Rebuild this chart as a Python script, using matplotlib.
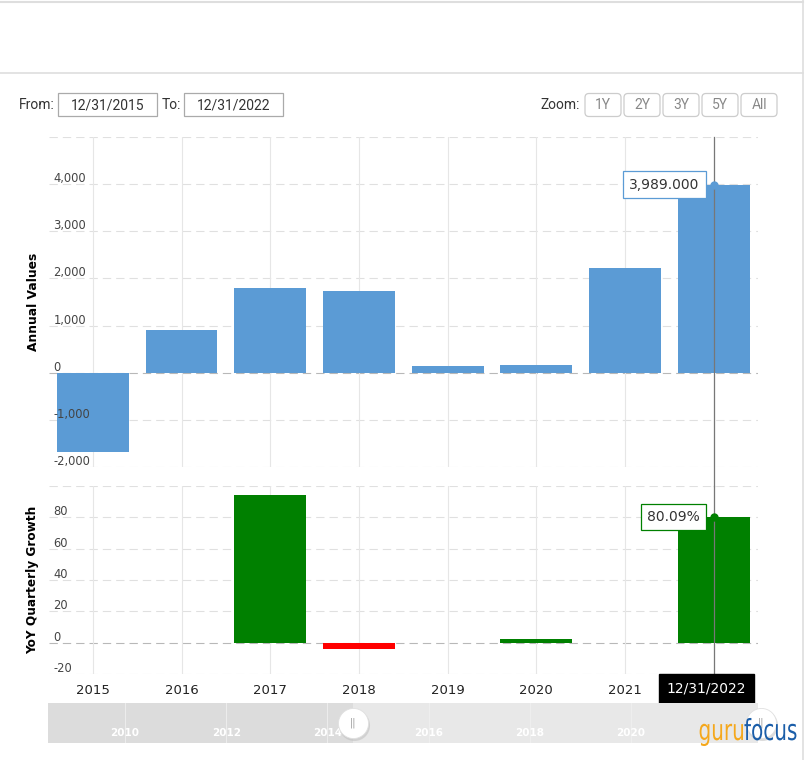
import matplotlib
matplotlib.use('Agg')
import matplotlib.pyplot as plt
from matplotlib.patches import Rectangle, FancyBboxPatch, PathPatch
from matplotlib.lines import Line2D
from matplotlib.textpath import TextPath
from matplotlib.font_manager import FontProperties
from matplotlib.transforms import Affine2D
import numpy as np

# ----------------------
# data
# ----------------------
years = ['2015', '2016', '2017', '2018', '2019', '2020', '2021', '2022']
annual_values = [-1680, 915, 1787, 1723, 149, 170, 2213, 3989]
yoy_growth = [np.nan, np.nan, 94.2, -3.8, np.nan, 2.6, np.nan, 80.09]

annual_ticks = [-2000, -1000, 0, 1000, 2000, 3000, 4000]
annual_lim = (-2000, 5000)
growth_ticks = [-20, 0, 20, 40, 60, 80]
growth_lim = (-20, 100)

nav_years = [2010, 2012, 2014, 2016, 2018, 2020]
nav_lim = (2008.48, 2022.51)
nav_start = 2014.51

date_from = '12/31/2015'
date_to = '12/31/2022'
zoom_buttons = ['1Y', '2Y', '3Y', '5Y', 'All']

# ----------------------
# style
# ----------------------
W, H = 806, 760
BLUE = '#5b9bd5'
GREEN = '#008000'
RED = '#ff0000'
GRID = '#e0e0e0'
VGRID = '#e6e6e6'
plt.rcParams['font.family'] = ['DejaVu Sans']


def rect(l, t, r, b):
    return [l / W, 1 - b / H, (r - l) / W, (b - t) / H]


fig = plt.figure(figsize=(W / 100, H / 100), dpi=100)

# background UI layer in pixel coords
ui = fig.add_axes([0, 0, 1, 1], zorder=0)
ui.set_xlim(0, W)
ui.set_ylim(H, 0)
ui.axis('off')

ui.add_line(Line2D([0, 803], [2, 2], color='#dedede', lw=1.5))
ui.add_line(Line2D([0, 803], [72.5, 72.5], color='#dedede', lw=1.2))
ui.add_line(Line2D([803, 803], [0, H], color='#dedede', lw=1.2))

ui.text(19, 105, 'From:', fontsize=10, family='Roboto', color='#333333', va='center')
ui.add_patch(Rectangle((58, 93), 99, 23, fc='white', ec='#aaaaaa', lw=0.9))
ui.text(107.5, 105, date_from, fontsize=10, family='Roboto', color='#333333', va='center', ha='center')
ui.text(162, 105, 'To:', fontsize=10, family='Roboto', color='#333333', va='center')
ui.add_patch(Rectangle((184, 93), 99, 23, fc='white', ec='#aaaaaa', lw=0.9))
ui.text(233.5, 105, date_to, fontsize=10, family='Roboto', color='#333333', va='center', ha='center')

ui.text(540, 105, 'Zoom:', fontsize=10, family='Roboto', color='#333333', va='center')
bx = 585
for lab in zoom_buttons:
    w = 36
    ui.add_patch(FancyBboxPatch((bx, 93.5), w, 23, boxstyle='round,pad=0,rounding_size=4',
                                fc='white', ec='#cccccc', lw=0.9))
    ui.text(bx + w / 2, 105, lab, fontsize=10, family='Roboto', color='#888888', va='center', ha='center')
    bx += w + 3

# ----------------------
# panels
# ----------------------
x = np.arange(len(years))
ax1 = fig.add_axes(rect(48.5, 137, 758, 467), zorder=2)
ax2 = fig.add_axes(rect(48.5, 486, 758, 674), zorder=2, sharex=ax1)

for ax, ticks, lim in [(ax1, annual_ticks, annual_lim), (ax2, growth_ticks, growth_lim)]:
    ax.set_facecolor('none')
    for s in ax.spines.values():
        s.set_visible(False)
    ax.set_ylim(*lim)
    ax.set_xlim(-0.5, len(years) - 0.5)
    for v in ticks + [lim[1]]:
        c = '#b8b8b8' if v == 0 else GRID
        ax.axhline(v, color=c, lw=0.8, ls=(0, (7.5, 4.5)), zorder=0)
    for xi in x:
        ax.axvline(xi, color=VGRID, lw=0.8, zorder=0)
    ax.set_yticks([])
    ax.tick_params(axis='x', length=0)
    for v in ticks:
        ax.annotate(f'{v:,}', xy=(0, v), xycoords=('axes fraction', 'data'), xytext=(5, -1),
                    textcoords='offset pixels', fontsize=8.3, color='#444444', va='bottom',
                    ha='left', zorder=5)

ax1.bar(x, annual_values, width=0.81, color=BLUE, zorder=2)
ax1.set_ylabel('Annual Values', fontsize=8.8, fontweight='bold')
ax1.yaxis.set_label_coords(-9 / 710, 0.5)
plt.setp(ax1.get_xticklabels(), visible=False)

g = np.nan_to_num(np.array(yoy_growth))
gcolors = [GREEN if v >= 0 else RED for v in g]
ax2.bar(x, g, width=0.81, color=gcolors, zorder=2)
ax2.set_ylabel('YoY Quarterly Growth', fontsize=8.7, fontweight='bold')
ax2.yaxis.set_label_coords(-9 / 710, 0.5)
ax2.set_xticks(x)
ax2.set_xticklabels(years, fontsize=9.5, color='#222222')
ax2.tick_params(axis='x', pad=7.5)

# crosshair on last point
last = len(years) - 1
ax2.get_xticklabels()[last].set_visible(False)
ax1.axvline(last, ymin=-(19 / 330), ymax=1, color='#777777', lw=0.9, zorder=6, clip_on=False)
ax2.axvline(last, ymin=-(1 / 188), ymax=1, color='#777777', lw=0.9, zorder=6, clip_on=False)

ax1.plot(last, annual_values[last], 'o', ms=5, color=BLUE, zorder=8, clip_on=False)
ax1.annotate(f'{annual_values[last]:,.3f}', xy=(last, annual_values[last]), xytext=(-14, 0),
             textcoords='offset pixels', ha='right', va='center', fontsize=10, color='#333333',
             bbox=dict(boxstyle='square,pad=0.45', fc='white', ec=BLUE, lw=0.9), zorder=9)
ax2.plot(last, yoy_growth[last], 'o', ms=5, color=GREEN, zorder=8, clip_on=False)
ax2.annotate(f'{yoy_growth[last]:.2f}%', xy=(last, yoy_growth[last]), xytext=(-14, 0),
             textcoords='offset pixels', ha='right', va='center', fontsize=10, color='#333333',
             bbox=dict(boxstyle='square,pad=0.45', fc='white', ec=GREEN, lw=0.9), zorder=9)

ax2.annotate(date_to, xy=(last, 0), xycoords=('data', 'axes fraction'), xytext=(-7, -15),
             textcoords='offset pixels', ha='center', va='center', fontsize=10, color='white',
             bbox=dict(boxstyle='square,pad=0.55', fc='black', ec='black'), zorder=10,
             annotation_clip=False)

# ----------------------
# navigator
# ----------------------
nav = fig.add_axes(rect(48, 703, 758, 743), zorder=3)
nav.set_xlim(*nav_lim)
nav.set_ylim(0, 1)
nav.set_facecolor('#e8e8e8')
for s in nav.spines.values():
    s.set_visible(False)
nav.set_xticks([])
nav.set_yticks([])
nav.axvspan(nav_lim[0], nav_start, color='#dcdcdc', lw=0, zorder=0)
for yr in nav_years:
    nav.axvline(yr, color='#f0f0f0', lw=0.6, zorder=1)
    nav.text(yr, 0.25, str(yr), ha='center', va='center', fontsize=7.5, fontweight='bold',
             color='white', zorder=2)
for hx in [nav_start, nav_lim[1] + 0.05]:
    nav.scatter([hx + 0.02], [0.46], s=500, color='#bbbbbb', alpha=0.5, lw=0, zorder=4, clip_on=False)
    nav.scatter([hx], [0.5], s=470, color='white', edgecolors='#e0e0e0', lw=0.6, zorder=5, clip_on=False)
    nav.text(hx, 0.5, '||', ha='center', va='center', fontsize=7, color='#999999', zorder=6, clip_on=False)

# logo (condensed text drawn as paths)
top = fig.add_axes([0, 0, 1, 1], zorder=20)
top.set_xlim(0, W)
top.set_ylim(H, 0)
top.axis('off')
fp = FontProperties(family='DejaVu Sans')
p_guru = TextPath((0, 0), 'guru', size=29, prop=fp)
p_focus = TextPath((0, 0), 'focus', size=29, prop=fp)
sx = 0.69
wg = p_guru.get_extents().x1 * sx
top.add_patch(PathPatch(p_guru, transform=Affine2D().scale(sx, -1).translate(743 - wg, 740) + top.transData,
                        fc='#f5a81c', lw=0))
top.add_patch(PathPatch(p_focus, transform=Affine2D().scale(sx, -1).translate(744, 740) + top.transData,
                        fc='#1b5ea9', lw=0))

fig.savefig('out.png', dpi=100)
